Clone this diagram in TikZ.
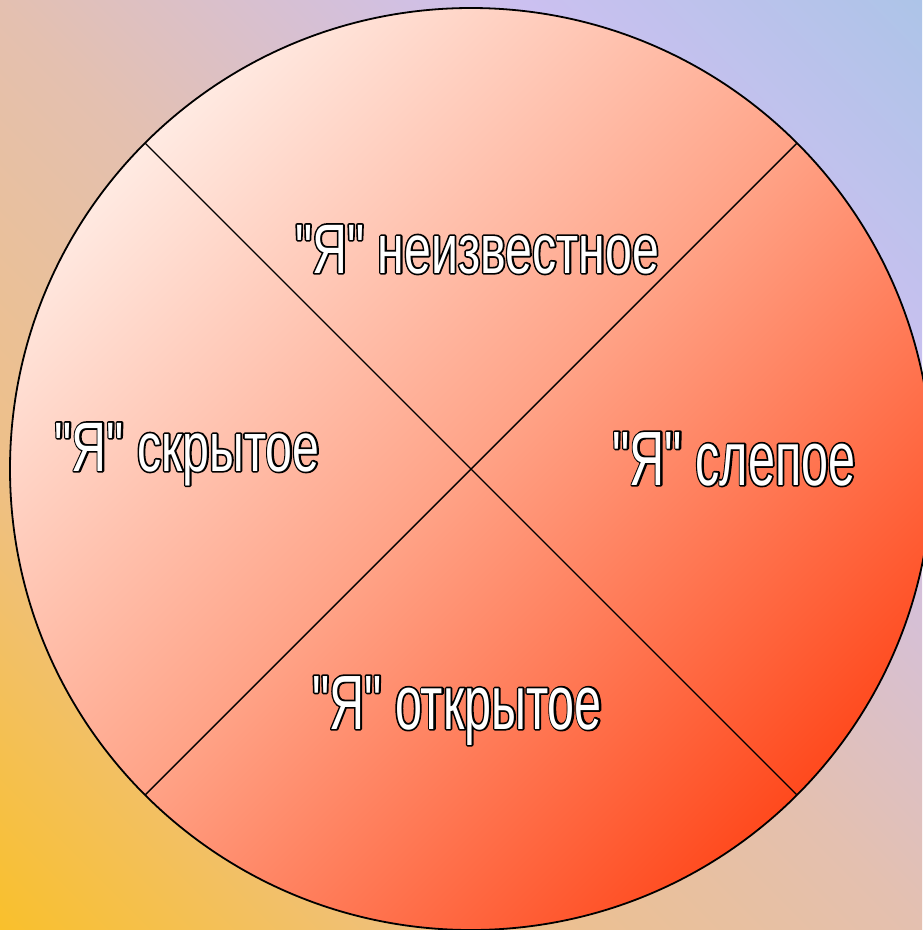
\documentclass[tikz,border=0pt]{standalone}
\usepackage{fontspec}
\newfontfamily\narrowfont[FakeStretch=0.69]{Liberation Sans}
\newfontfamily\tallfont[FakeStretch=0.63]{Liberation Sans}
\definecolor{bgA}{HTML}{F9C02C}
\definecolor{bgB}{HTML}{EEC088}
\definecolor{bgC}{HTML}{E4C0B0}
\definecolor{bgD}{HTML}{CCC0F0}
\definecolor{bgE}{HTML}{ADC4E8}
\definecolor{discA}{HTML}{FFEAE2}
\definecolor{discB}{HTML}{FFA286}
\definecolor{discC}{HTML}{FF4A1E}
\pgfdeclarehorizontalshading{backshade}{100bp}{color(0bp)=(bgA); color(14.6bp)=(bgA); color(32.3bp)=(bgB); color(50bp)=(bgC); color(69.8bp)=(bgD); color(85.4bp)=(bgE); color(100bp)=(bgE)}
\pgfdeclarehorizontalshading{discshade}{100bp}{color(0bp)=(discA); color(25bp)=(discA); color(50bp)=(discB); color(75bp)=(discC); color(100bp)=(discC)}
% white letters with a black rim (rim stroked first, fill on top)
\newcommand{\outlined}[1]{\color{white}\special{pdf:literal direct 1 Tr 3.4 w 1 j 0 G}\rlap{#1}\special{pdf:literal direct 0 Tr}#1}
\tikzset{
  selflabel/.style={inner sep=0pt, anchor=base, font=\narrowfont\fontsize{70}{70}\selectfont},
  selflabeltall/.style={inner sep=0pt, anchor=base, font=\tallfont\fontsize{77}{77}\selectfont}
}
\begin{document}
\begin{tikzpicture}[x=1pt,y=-1pt]
  \useasboundingbox (0,0) rectangle (922,930);
  % background
  \shade[shading=backshade, shading angle=45] (0,0) rectangle (922,930);
  % the window
  \coordinate (c) at (471,469);
  \shade[shading=discshade, shading angle=-45] (c) circle (461);
  \coordinate (nw) at (145,143);
  \coordinate (ne) at (797,143);
  \coordinate (sw) at (145,795);
  \coordinate (se) at (797,795);
  \foreach \a/\b in {nw/se, ne/sw}
    \draw[line width=1.4pt] (\a) -- (\b);
  \draw[line width=1.8pt] (c) circle (461);
  % quadrants
  \node[selflabel] (txtunknown) at (477,273) {\outlined{"Я" неизвестное}};
  \node[selflabel] (txthidden) at (187,471) {\outlined{"Я" скрытое}};
  \node[selflabeltall] (txtblind) at (734,485) {\outlined{"Я" слепое}};
  \node[selflabeltall] (txtopen) at (457,729) {\outlined{"Я" открытое}};
\end{tikzpicture}
\end{document}
